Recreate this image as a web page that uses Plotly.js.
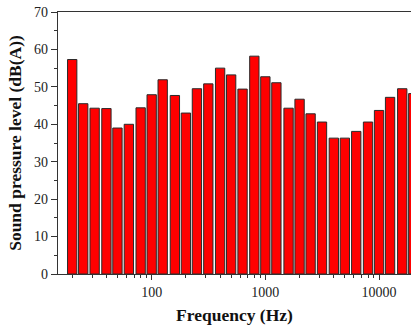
<!DOCTYPE html>
<html>
<head>
<meta charset="utf-8">
<script src="https://cdn.plot.ly/plotly-3.0.1.min.js"></script>
<style>html,body{margin:0;padding:0;background:#fff;}#chart{width:411px;height:325px;}</style>
</head>
<body>
<div id="chart"></div>
<script>
// One-third octave band centre frequencies (Hz)
const frequencies = [20,25,31.5,40,50,63,80,100,125,160,200,250,315,400,500,630,800,1000,1250,1600,2000,2500,3150,4000,5000,6300,8000,10000,12500,16000,20000];
// Sound pressure level, dB(A)
const soundLevels = [57.3,45.5,44.3,44.2,39.0,40.0,44.4,47.9,51.9,47.7,43.0,49.5,50.8,55.0,53.2,49.4,58.2,52.7,51.1,44.3,46.7,42.8,40.6,36.3,36.3,38.1,40.6,43.7,47.2,49.5,48.2];
// Major x tick labels
const xTickValues = [100, 1000, 10000];
const xTickLabels = ['100', '1000', '10000'];

const xMin = 15, xMax = 19100;
const minorVals = [];
for (let n = 1; n <= 4; n++) {
  for (let k = 2; k <= 9; k++) {
    const v = k * Math.pow(10, n);
    if (v > xMin && v < xMax) minorVals.push(Math.log10(v));
  }
}

const font = 'Liberation Serif, Times New Roman, serif';

const trace = {
  type: 'bar',
  x: frequencies.map(f => Math.log10(f)),
  y: soundLevels,
  width: 0.082,
  marker: { color: '#ff0000', line: { color: '#2a2a2a', width: 1 } },
  hoverinfo: 'skip'
};

const layout = {
  width: 411, height: 325,
  margin: { l: 58, r: 0, t: 12, b: 51 },
  paper_bgcolor: '#fff', plot_bgcolor: '#fff',
  showlegend: false,
  font: { family: font, color: '#222', size: 14 },
  xaxis: {
    type: 'linear',
    range: [Math.log10(xMin), Math.log10(xMax)],
    tickmode: 'array',
    tickvals: xTickValues.map(v => Math.log10(v)),
    ticktext: xTickLabels,
    ticks: 'outside', ticklen: 5, tickwidth: 1, tickcolor: '#333',
    minor: { tickmode: 'array', tickvals: minorVals, ticks: 'outside', ticklen: 3, tickwidth: 1, tickcolor: '#333', showgrid: false },
    showline: true, linecolor: '#333', linewidth: 1.3, mirror: true,
    showgrid: false, zeroline: false,
    tickfont: { family: font, size: 14, color: '#222' },
    title: { text: '<b>Frequency (Hz)</b>', font: { family: font, size: 17.5, color: '#111' }, standoff: 9 }
  },
  yaxis: {
    range: [0, 70],
    tickmode: 'linear', tick0: 0, dtick: 10,
    ticks: 'outside', ticklen: 6, tickwidth: 1, tickcolor: '#333',
    minor: { tickmode: 'linear', tick0: 0, dtick: 5, ticks: 'outside', ticklen: 3, tickwidth: 1, tickcolor: '#333', showgrid: false },
    showline: true, linecolor: '#333', linewidth: 1.3, mirror: false,
    showgrid: false, zeroline: false,
    tickfont: { family: font, size: 14, color: '#222' },
    title: { text: '<b>Sound pressure level (dB(A))</b>', font: { family: font, size: 17.5, color: '#111' }, standoff: 7 }
  }
};

Plotly.newPlot('chart', [trace], layout, { displayModeBar: false, staticPlot: true });
</script>
</body>
</html>
